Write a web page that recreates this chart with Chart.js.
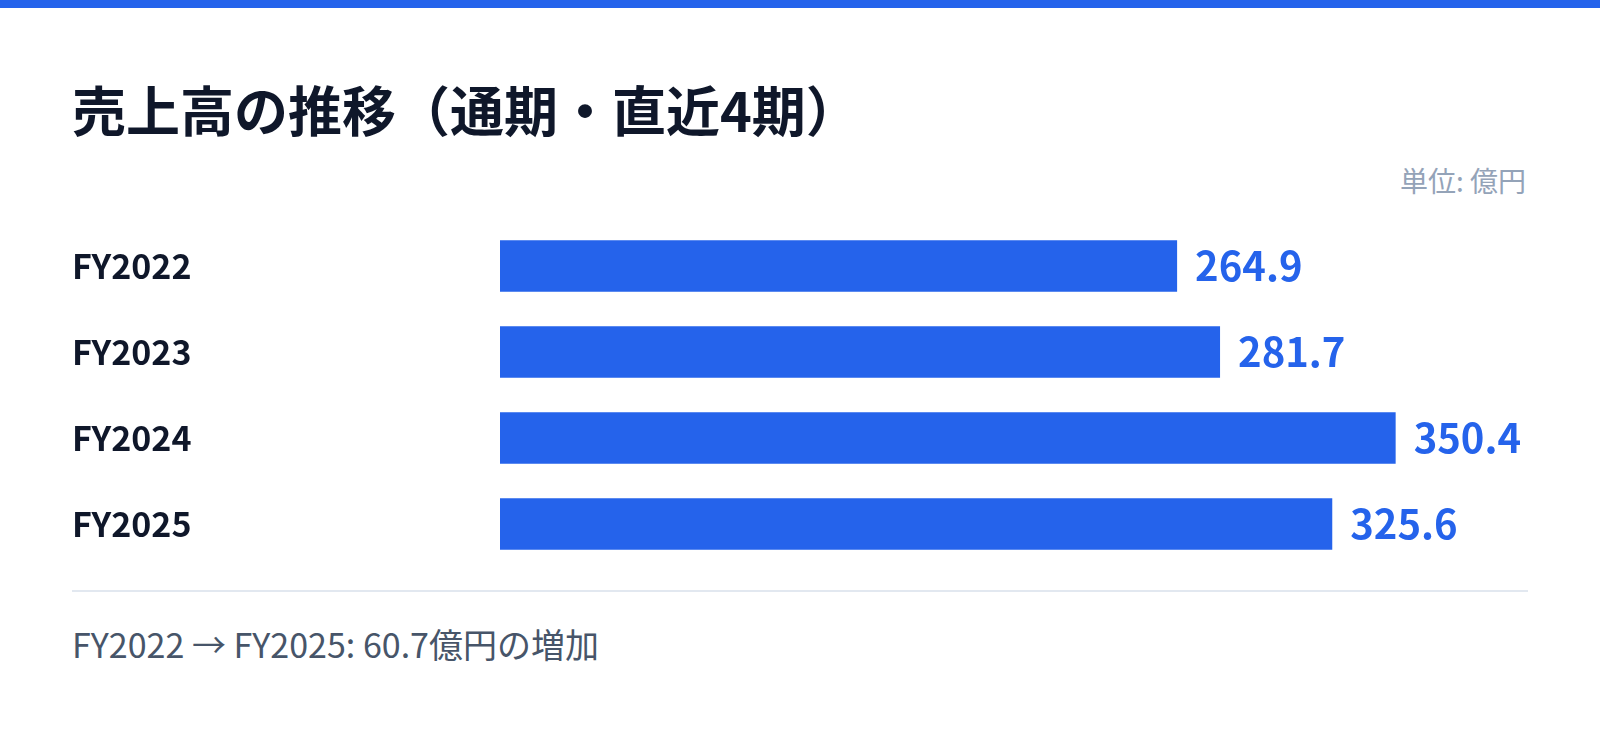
<!DOCTYPE html>
<html lang="ja">
<head>
<meta charset="utf-8">
<script src="https://cdn.jsdelivr.net/npm/chart.js@4"></script>
<style>
  html, body { margin: 0; padding: 0; background: #ffffff; }
  body { width: 1600px; height: 733px; position: relative; overflow: hidden; font-family: "Noto Sans CJK JP", "Noto Sans", sans-serif; }
  .topbar { position: absolute; left: 0; top: 0; width: 1600px; height: 8px; background: #2563eb; }
  .title { position: absolute; left: 72px; top: 82px; font-size: 54px; line-height: 1; font-weight: 700; color: #0f172a; white-space: nowrap; }
  .unit { position: absolute; right: 74px; top: 166px; font-size: 28px; line-height: 1; color: #94a3b8; white-space: nowrap; }
  .chartbox { position: absolute; left: 72px; top: 200px; width: 1458px; height: 390px; }
  .rule { position: absolute; left: 72px; top: 590px; width: 1456px; height: 2px; background: #e2e8f0; }
  .footer { position: absolute; left: 72px; top: 627px; font-size: 34px; line-height: 1; color: #475569; white-space: nowrap; }
</style>
</head>
<body>
<div class="topbar"></div>
<div class="title">売上高の推移（通期・直近4期）</div>
<div class="unit">単位: 億円</div>
<div class="chartbox"><canvas id="c"></canvas></div>
<div class="rule"></div>
<div class="footer">FY2022 → FY2025: 60.7億円の増加</div>
<script>
const categories = ["FY2022", "FY2023", "FY2024", "FY2025"];
const sales = [264.9, 281.7, 350.4, 325.6];
const valueLabels = ["264.9", "281.7", "350.4", "325.6"];

const FONT = '"Noto Sans CJK JP", "Noto Sans", sans-serif';
const BLUE = '#2563eb';

const valueLabelPlugin = {
  id: 'valueLabels',
  afterDatasetsDraw(chart) {
    const ctx = chart.ctx;
    const meta = chart.getDatasetMeta(0);
    ctx.save();
    ctx.font = '700 40px ' + FONT;
    ctx.fillStyle = BLUE;
    ctx.textAlign = 'left';
    ctx.textBaseline = 'middle';
    meta.data.forEach((bar, i) => {
      ctx.fillText(valueLabels[i], bar.x + 18, bar.y);
    });
    ctx.restore();
  }
};

new Chart(document.getElementById('c'), {
  type: 'bar',
  data: {
    labels: categories,
    datasets: [{
      data: sales,
      backgroundColor: BLUE,
      borderWidth: 0,
      barPercentage: 1,
      categoryPercentage: 0.6
    }]
  },
  options: {
    indexAxis: 'y',
    responsive: true,
    maintainAspectRatio: false,
    animation: false,
    layout: { padding: { top: 23, bottom: 23, left: 0, right: 0 } },
    plugins: { legend: { display: false }, tooltip: { enabled: false }, title: { display: false } },
    scales: {
      x: {
        display: false,
        min: 0,
        max: Math.max(...sales) * 1.15
      },
      y: {
        grid: { display: false, drawTicks: false },
        border: { display: false },
        ticks: {
          crossAlign: 'far',
          color: '#0f172a',
          font: { family: FONT, size: 34, weight: '700' },
          padding: 0
        },
        afterFit(scale) { scale.width = 428; }
      }
    }
  },
  plugins: [valueLabelPlugin]
});
</script>
</body>
</html>
